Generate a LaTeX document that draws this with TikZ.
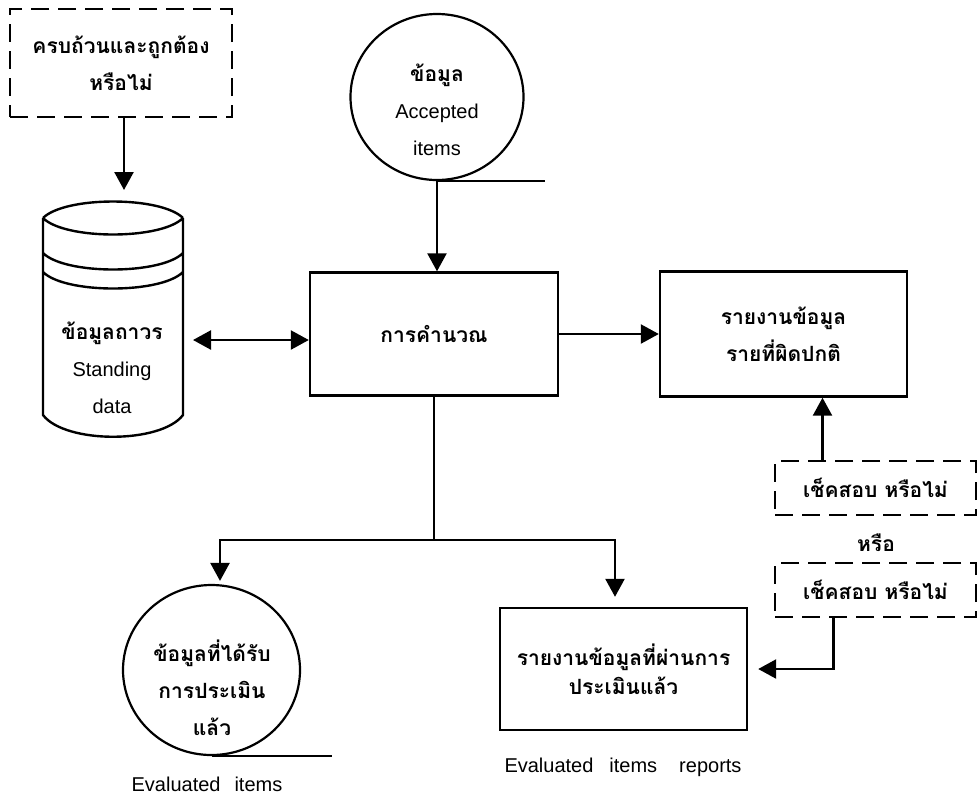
\documentclass[tikz,border=0pt]{standalone}
\usepackage{fontspec}
\setmainfont{Liberation Sans}
\newfontfamily\thaifont[Script=Thai]{Loma}
\usetikzlibrary{arrows.meta,shapes.geometric,calc}

\tikzset{
  solidbox/.style={draw, line width=2.4pt, align=center, inner sep=0pt},
  dashbox/.style={draw, line width=2.2pt, dash pattern=on 18pt off 9pt, align=center, inner sep=0pt},
  roundbox/.style={draw, ellipse, line width=2.2pt, inner sep=0pt},
  thtext/.style={align=center, font=\thaifont\bfseries\fontsize{21}{37}\selectfont},
  entext/.style={align=center, font=\normalfont\fontsize{20}{37}\selectfont},
  link/.style={line width=2pt},
  arr/.style={line width=2.4pt, -{Triangle[length=18pt,width=19pt]}},
  arrboth/.style={line width=2.4pt, {Triangle[length=18pt,width=19pt]}-{Triangle[length=18pt,width=19pt]}}
}
\newcommand\latinline[1]{{\normalfont\fontsize{20}{37}\selectfont #1}}

\begin{document}
\begin{tikzpicture}[x=1pt,y=-1pt]
\useasboundingbox (0,0) rectangle (979,796);

% input check (top left)
\node[dashbox, thtext, minimum width=222pt, minimum height=108pt] (chkin) at (121,63)
  {ครบถ้วนและถูกต้อง\\หรือไม่};

% standing data store drawn as a cylinder
\coordinate (dbtop) at (113,202);
\coordinate (dbright) at (183,340);
\draw[line width=2.4pt]
  (43,218) .. controls (65,196) and (161,196) .. (183,218)
  (43,218) .. controls (65,240) and (161,240) .. (183,218)
  (43,253) .. controls (65,275) and (161,275) .. (183,253)
  (43,272) .. controls (65,294) and (161,294) .. (183,272)
  (43,218) -- (43,415) .. controls (65,444) and (161,444) .. (183,415) -- (183,218);
\node[thtext] (dbtext) at (112,368)
  {ข้อมูลถาวร\\\latinline{Standing}\\\latinline{data}};

% accepted items (top)
\node[roundbox, minimum width=173pt, minimum height=166pt] (acc) at (437,97) {};
\node[thtext] (acctext) at (437,110)
  {ข้อมูล\\\latinline{Accepted}\\\latinline{items}};
\draw[link] (acc.south) -- ++(108,0);

% processing
\node[solidbox, thtext, minimum width=248pt, minimum height=123pt] (calc) at (434,334) {การคำนวณ};

% exception report
\node[solidbox, thtext, minimum width=247pt, minimum height=125pt] (rep) at (783.5,334)
  {รายงานข้อมูล\\รายที่ผิดปกติ};

% review checks (right)
\node[dashbox, thtext, minimum width=201pt, minimum height=54pt] (chk1) at (875.5,488) {เช็คสอบ หรือไม่};
\node[thtext] (ortext) at (876,543) {หรือ};
\node[dashbox, thtext, minimum width=201pt, minimum height=54pt] (chk2) at (875.5,590) {เช็คสอบ หรือไม่};

% evaluated items (bottom left)
\node[roundbox, minimum width=177pt, minimum height=170pt] (evc) at (211.5,670) {};
\node[thtext] (evctext) at (212,688) {ข้อมูลที่ได้รับ\\การประเมิน\\แล้ว};
\draw[link] (evc.south) -- ++(120,0);
\node[entext] (evclabel) at (207,784) {Evaluated\hspace{0.7em}items};

% evaluated items report (bottom middle)
\node[solidbox, align=center, font=\thaifont\bfseries\fontsize{21}{29}\selectfont,
      minimum width=247pt, minimum height=122pt] (evr) at (623.5,669)
  {รายงานข้อมูลที่ผ่านการ\\ประเมินแล้ว};
\node[entext] (evrlabel) at (623,767) {Evaluated\hspace{0.8em}items\hspace{1.1em}reports};

% connectors
\draw[arr, shorten >=12pt] ([xshift=3pt]chkin.south) -- ([xshift=3pt]chkin.south |- dbtop);
\draw[arrboth, shorten <=10pt] (dbright) -- (dbright -| calc.west);
\draw[arr] (acc.south) -- (acc.south |- calc.north);
\draw[arr] (calc.east) -- (rep.west);
\draw[arr] ([xshift=-53pt]chk1.north) -- ([xshift=-53pt]chk1.north |- rep.south);
\draw[arr, shorten >=10pt] ([xshift=-42pt]chk2.south) |- (evr.east);

\coordinate (branch) at (434,540);
\draw[link] (calc.south) -- (branch);
\draw[arr, shorten >=3pt] (branch) -| ([xshift=8.5pt]evc.north);
\draw[arr, shorten >=10pt] (branch) -| ([xshift=-8.5pt]evr.north);
\end{tikzpicture}
\end{document}
